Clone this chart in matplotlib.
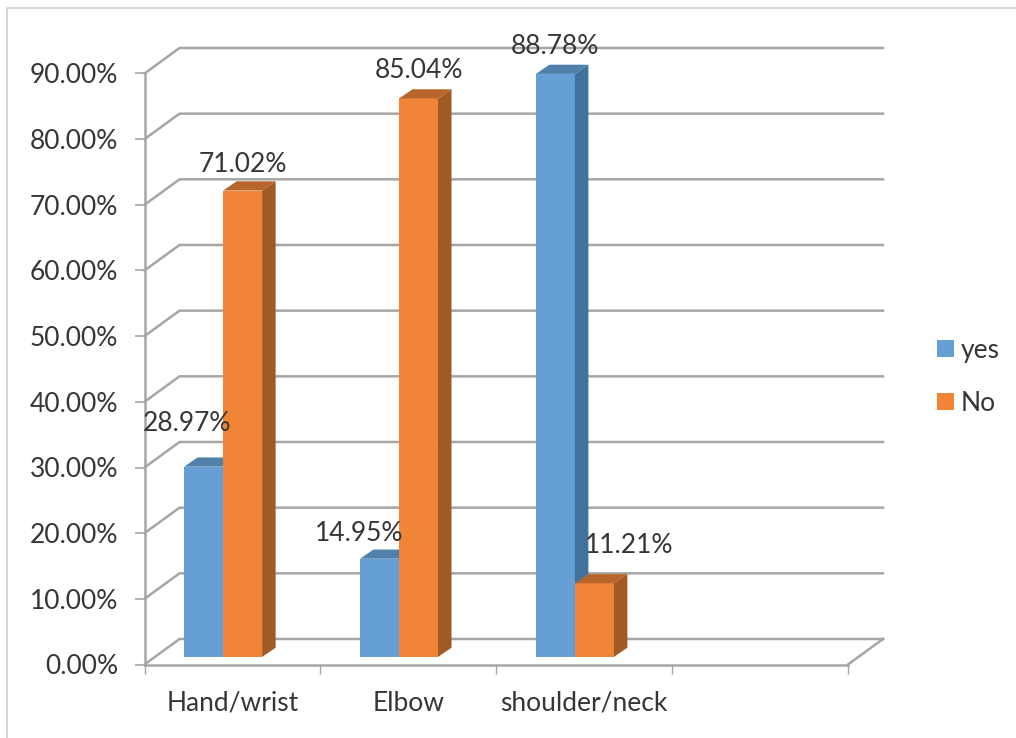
#!/usr/bin/env python3
"""Pseudo-3D clustered columns: share of yes / no answers per body region."""

import matplotlib

matplotlib.use("Agg")
import matplotlib.pyplot as plt
from matplotlib.lines import Line2D
from matplotlib.patches import Polygon

CATEGORIES = ["Hand/wrist", "Elbow", "shoulder/neck", ""]
YES_VALUES = [28.97, 14.95, 88.78]
NO_VALUES = [71.02, 85.04, 11.21]
Y_TICKS = [0, 10, 20, 30, 40, 50, 60, 70, 80, 90]

W, H = 1016, 738
TEXT = "#363636"
GRID = "#A6A6A6"
FRAME = "#D0D0D0"
YES_FACES = ("#659FD6", "#4F81AB", "#41729C")  # front, top, side
NO_FACES = ("#F08538", "#B8652B", "#A25A25")
FONT_SIZE = 19

# front plane of the chart in pixels
LEFT, RIGHT, BASE, TOP = 144.5, 848.0, 664.5, 73.5
PX_X = (RIGHT - LEFT) / len(CATEGORIES)
PX_Y = (BASE - TOP) / Y_TICKS[-1]

# offsets converted to data units
WALL_DX, WALL_DY = 35 / PX_X, 25.5 / PX_Y
BAR_W = 39 / PX_X
BAR_DX, BAR_DY = 13.5 / PX_X, 9.2 / PX_Y
BAR_LIFT = 7.6 / PX_Y
GROUP_SHIFT = -9.3 / PX_X

# label offsets from the top centre of each front face, in points
YES_LABEL_OFFSETS = [(-12, 22), (-15, 9), (0, 11)]
NO_LABEL_OFFSETS = [(0, 10), (0, 11), (25, 18)]

plt.rcParams["font.family"] = ["Lato", "DejaVu Sans"]


def draw_column(ax, x, value, faces, label=None):
    front, top, side = faces
    y0, y1 = BAR_LIFT, BAR_LIFT + value
    bars = ax.bar(x, value, BAR_W, bottom=y0, align="edge", color=front,
                  zorder=3, clip_on=False, label=label)
    xr = x + BAR_W
    ax.add_patch(Polygon([(x, y1), (xr, y1), (xr + BAR_DX, y1 + BAR_DY), (x + BAR_DX, y1 + BAR_DY)],
                         closed=True, color=top, lw=0, zorder=3, clip_on=False))
    ax.add_patch(Polygon([(xr, y0), (xr + BAR_DX, y0 + BAR_DY), (xr + BAR_DX, y1 + BAR_DY), (xr, y1)],
                         closed=True, color=side, lw=0, zorder=3, clip_on=False))
    return bars


def label_column(ax, x, value, offset):
    ax.annotate(f"{value:.2f}%", (x + BAR_W / 2, BAR_LIFT + value), xytext=offset,
                textcoords="offset points", ha="center", va="bottom",
                fontsize=FONT_SIZE, color=TEXT, zorder=5, annotation_clip=False)


def main():
    fig = plt.figure(figsize=(W / 100, H / 100), dpi=100, facecolor="white")
    ax = fig.add_axes([LEFT / W, 1 - BASE / H, (RIGHT - LEFT) / W, (BASE - TOP) / H])
    ax.set_xlim(0, len(CATEGORIES))
    ax.set_ylim(Y_TICKS[0], Y_TICKS[-1])
    ax.patch.set_alpha(0)

    # back wall gridlines and the diagonals joining them to the axis
    for v in Y_TICKS:
        ax.plot([0, WALL_DX, len(CATEGORIES) + WALL_DX], [v, v + WALL_DY, v + WALL_DY],
                color=GRID, lw=1.8, zorder=1, clip_on=False, solid_joinstyle="miter")
    ax.plot([len(CATEGORIES), len(CATEGORIES) + WALL_DX], [0, WALL_DY],
            color=GRID, lw=1.8, zorder=1, clip_on=False)

    for i in range(len(YES_VALUES)):
        x_yes = i + 0.5 - BAR_W + GROUP_SHIFT
        x_no = i + 0.5 + GROUP_SHIFT
        draw_column(ax, x_yes, YES_VALUES[i], YES_FACES, "yes" if i == 0 else None)
        draw_column(ax, x_no, NO_VALUES[i], NO_FACES, "No" if i == 0 else None)
        label_column(ax, x_yes, YES_VALUES[i], YES_LABEL_OFFSETS[i])
        label_column(ax, x_no, NO_VALUES[i], NO_LABEL_OFFSETS[i])

    for name in ("top", "right"):
        ax.spines[name].set_visible(False)
    for name in ("left", "bottom"):
        ax.spines[name].set_color(GRID)
        ax.spines[name].set_linewidth(1.8)
        ax.spines[name].set_zorder(2)

    ax.set_yticks(Y_TICKS)
    ax.set_yticklabels([f"{v:.2f}%" for v in Y_TICKS], fontsize=FONT_SIZE, color=TEXT)
    ax.tick_params(axis="y", length=7, width=1.2, color=GRID, pad=12)

    ax.set_xticks(range(len(CATEGORIES) + 1))
    ax.set_xticklabels([])
    ax.tick_params(axis="x", which="major", length=6.5, width=1.0, color=GRID)
    ax.set_xticks([i + 0.5 for i in range(len(CATEGORIES))], minor=True)
    ax.set_xticklabels(CATEGORIES, minor=True, fontsize=FONT_SIZE, color=TEXT)
    ax.tick_params(axis="x", which="minor", length=0, pad=19)

    fig.legend(loc="upper left", bbox_to_anchor=(937 / W, 1 - 338 / H), frameon=False,
               fontsize=FONT_SIZE, labelcolor=TEXT, borderpad=0, borderaxespad=0,
               handlelength=0.64, handleheight=0.64, handletextpad=0.25, labelspacing=1.05)

    # thin outer frame along the left and top edges
    fig.add_artist(Line2D([7 / W, 7 / W, 1], [0, 1 - 8 / H, 1 - 8 / H], color=FRAME, lw=1.2))

    fig.savefig("out.png", dpi=100, facecolor="white")
    plt.close(fig)


if __name__ == "__main__":
    main()
